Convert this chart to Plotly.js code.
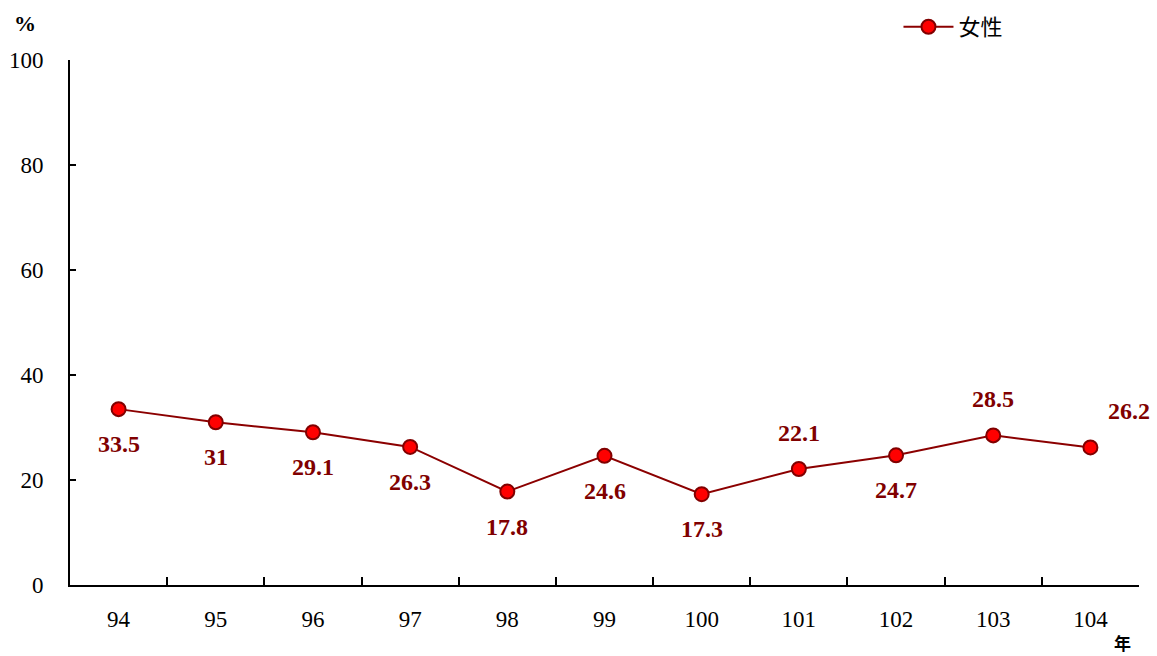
<!DOCTYPE html>
<html>
<head>
<meta charset="utf-8">
<script src="https://cdn.plot.ly/plotly-3.0.1.min.js"></script>
<style>html,body{margin:0;padding:0;background:#fff}#chart{width:1157px;height:656px}</style>
</head>
<body>
<div id="chart"></div>
<script>
const years = ['94','95','96','97','98','99','100','101','102','103','104'];
const female = [33.5, 31, 29.1, 26.3, 17.8, 24.6, 17.3, 22.1, 24.7, 28.5, 26.2];
const labelText = ['33.5','31','29.1','26.3','17.8','24.6','17.3','22.1','24.7','28.5','26.2'];
const labelSide = ['below','below','below','below','below','below','below','above','below','above','aboveRight'];
const seriesName = '女性';

const serif = 'Times New Roman, Liberation Serif, Tinos, serif';
const dark = '#800000';
const annotations = years.map((y, i) => {
  const side = labelSide[i];
  return {
    x: i, y: female[i], xref: 'x', yref: 'y',
    text: '<b>' + labelText[i] + '</b>', showarrow: false,
    xshift: side === 'aboveRight' ? 39 : 0,
    yshift: side === 'below' ? -35 : 36,
    font: {family: serif, size: 24, color: dark}
  };
});
annotations.push({
  xref: 'paper', yref: 'paper', x: -0.042, y: 1.07, xanchor: 'center', yanchor: 'middle',
  text: '<b>%</b>', showarrow: false,
  font: {family: serif, size: 22, color: '#000'}
});
annotations.push({
  xref: 'paper', yref: 'paper', x: 0.985, y: -0.11, xanchor: 'center', yanchor: 'middle',
  text: '<b>年</b>', showarrow: false,
  font: {family: 'Noto Sans CJK TC', size: 17, color: '#000'}
});

const trace = {
  x: years, y: female, type: 'scatter', mode: 'lines+markers', name: seriesName,
  line: {color: '#8B0000', width: 2},
  marker: {color: '#FF0000', size: 14, line: {color: dark, width: 2}}
};

const layout = {
  width: 1157, height: 656,
  margin: {l: 70, r: 18, t: 60, b: 71, autoexpand: false},
  paper_bgcolor: '#fff', plot_bgcolor: '#fff',
  showlegend: true,
  legend: {x: 0.775, y: 1.063, xanchor: 'left', yanchor: 'middle', orientation: 'h',
           itemwidth: 50,
           font: {family: 'Noto Sans CJK TC', size: 22, color: '#000'}, bgcolor: 'rgba(0,0,0,0)'},
  xaxis: {
    type: 'category', range: [-0.5, 10.5], tickson: 'boundaries', ticks: 'inside', ticklen: 8, tickwidth: 2, tickcolor: '#000',
    showline: true, linecolor: '#000', linewidth: 2, showgrid: false, zeroline: false,
    ticklabelstandoff: 12, tickangle: 0,
    tickfont: {family: serif, size: 23, color: '#000'}
  },
  yaxis: {
    range: [0, 100], tickvals: [0,20,40,60,80,100], ticks: 'inside', ticklen: 6, tickwidth: 2, tickcolor: '#000',
    showline: true, linecolor: '#000', linewidth: 2, showgrid: false, zeroline: false,
    ticklabelstandoff: 20,
    tickfont: {family: serif, size: 23, color: '#000'}
  },
  annotations: annotations
};

Plotly.newPlot('chart', [trace], layout, {displayModeBar: false, staticPlot: true});
</script>
</body>
</html>
